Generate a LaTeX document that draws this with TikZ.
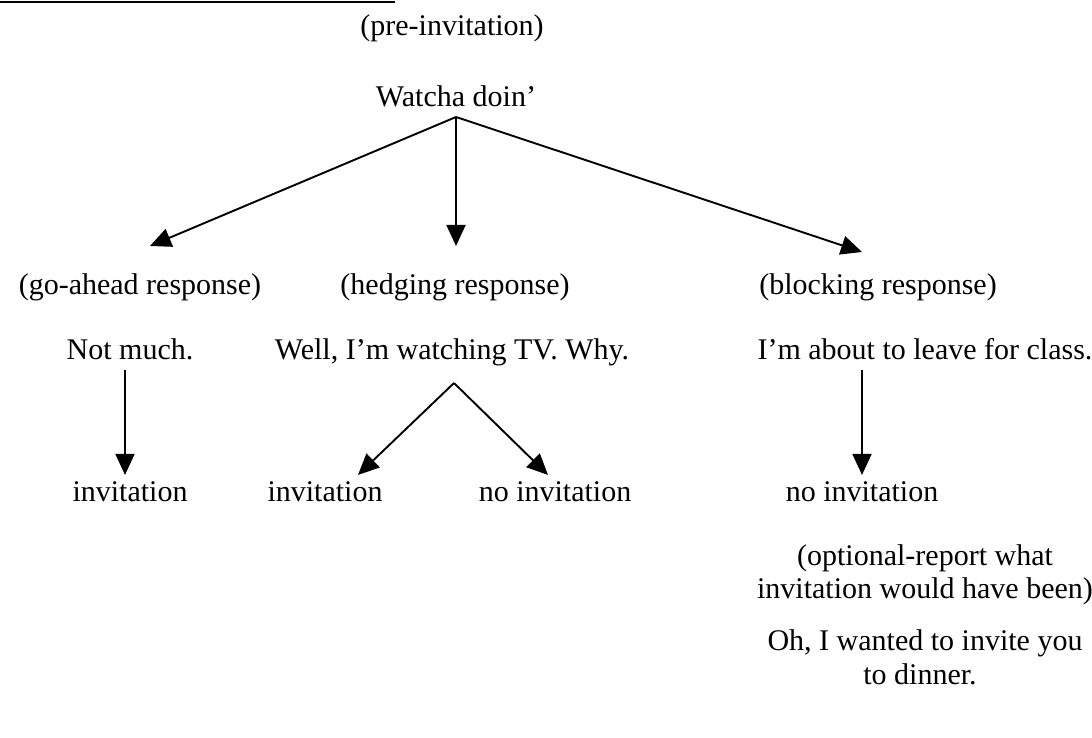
\documentclass[tikz,border=0pt]{standalone}
\usepackage{fontspec}
\setmainfont{Liberation Serif}
\usetikzlibrary{arrows.meta,calc}
\begin{document}
\begin{tikzpicture}[x=1pt,y=-1pt,
  lbl/.style={inner sep=0pt, anchor=base, font=\fontsize{30}{34}\selectfont},
  arr/.style={line width=1.9pt, -{Triangle[length=21pt,width=19pt]}}]
\useasboundingbox (0,0) rectangle (1092,737);
\draw[line width=2.5pt] (0,2) -- (395,2);
% texts
\node[lbl] (pre) at (452,35) {(pre-invitation)};
\node[lbl] (watcha) at (456,106) {Watcha doin’};
\node[lbl] (goahead) at (140,294) {(go-ahead response)};
\node[lbl] (hedge) at (455,294) {(hedging response)};
\node[lbl] (block) at (878,294) {(blocking response)};
\node[lbl] (notmuch) at (130,359) {Not much.};
\node[lbl] (well) at (452,359) {Well, I’m watching TV. Why.};
\node[lbl] (leave) at (925,359) {I’m about to leave for class.};
\node[lbl] (inv1) at (130,501) {invitation};
\node[lbl] (inv2) at (325,501) {invitation};
\node[lbl] (noinv1) at (555,501) {no invitation};
\node[lbl] (noinv2) at (862,501) {no invitation};
\node[lbl] (opt1) at (925,565) {(optional-report what};
\node[lbl] (opt2) at (925,598) {invitation would have been)};
\node[lbl] (oh1) at (925,650) {Oh, I wanted to invite you};
\node[lbl] (oh2) at (920,684) {to dinner.};
% connectors
\coordinate (apex) at ($(watcha.base)+(0,11)$);
\draw[arr] (apex) -- ($(goahead.north)+(10,-27)$);
\draw[arr] (apex) -- ($(hedge.north)+(1,-27)$);
\draw[arr] (apex) -- ($(block.north)+(-16,-21)$);
\draw[arr] ($(notmuch.south)+(-5,10)$) -- ($(inv1.north)+(-5,-6)$);
\coordinate (vapex) at ($(well.base)+(2,24)$);
\draw[arr] (vapex) -- ($(inv2.north)+(33,-6)$);
\draw[arr] (vapex) -- ($(noinv1.north)+(-7,-6)$);
\draw[arr] ($(leave.south)+(-63,10)$) -- ($(noinv2.north)+(0,-6)$);
\end{tikzpicture}
\end{document}
